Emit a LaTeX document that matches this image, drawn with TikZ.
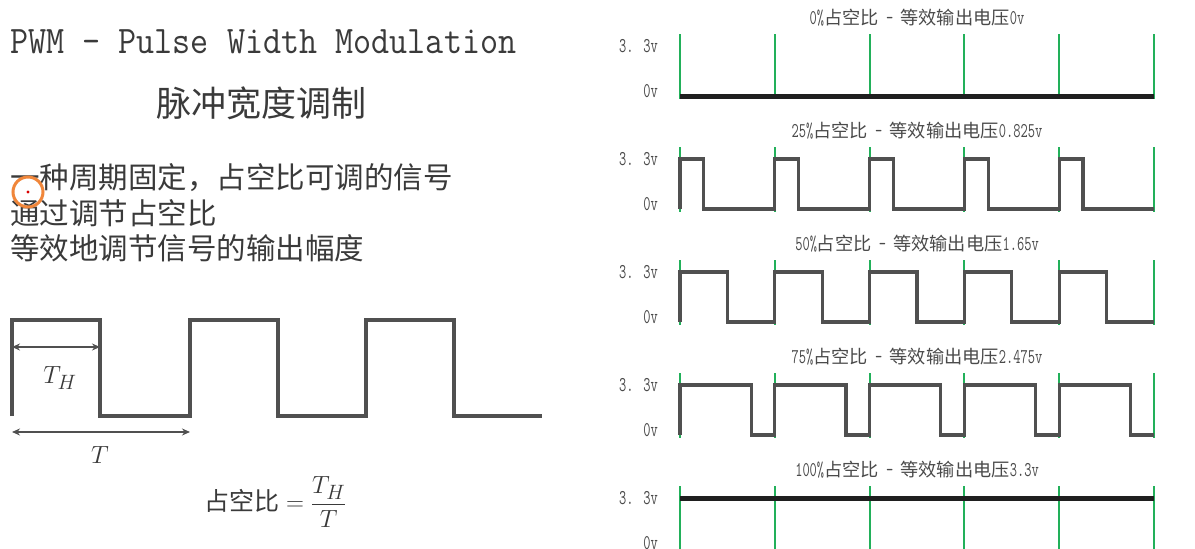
\documentclass[tikz,border=0pt]{standalone}
\usepackage{fontspec}
\setmainfont{Liberation Mono}
\newfontfamily\cjk{Noto Sans CJK SC}
\newfontfamily\monoT[FakeStretch=0.9]{Latin Modern Mono}
\newfontfamily\monoS[FakeStretch=0.67]{Latin Modern Mono}
\usetikzlibrary{arrows.meta}
\definecolor{wave}{HTML}{505050}
\definecolor{txt}{HTML}{3A3A3A}
\definecolor{lbl}{HTML}{4A4A4A}
\definecolor{grn}{HTML}{22B05A}
\definecolor{orng}{HTML}{F0863A}
\tikzset{
  wavel/.style={draw=wave, line width=4pt},
  wavep/.style={draw=wave, line width=3.2pt},
  flat/.style={draw=black!88, line width=5pt},
  grnl/.style={draw=grn, line width=2pt},
  dim/.style={draw=wave, line width=1.8pt, {Stealth[length=8pt,width=7pt]}-{Stealth[length=8pt,width=7pt]}},
  txtn/.style={inner sep=0pt, text=txt},
  ptitle/.style={inner sep=0pt, text=lbl},
  plabel/.style={inner sep=0pt, anchor=east, text=lbl},
}
\begin{document}
\begin{tikzpicture}[x=1pt,y=-1pt]
\useasboundingbox[fill=white] (0,0) rectangle (1195,549);

% ---------- left side texts ----------
\node[txtn, anchor=west] (title) at (10,42) {\fontsize{39}{44}\monoT PWM - Pulse Width Modulation};
\node[txtn] (sub) at (261,103) {\fontsize{35}{40}\cjk 脉冲宽度调制};
\node[txtn, anchor=west] (l1) at (10,178) {\fontsize{29.5}{34}\cjk 一种周期固定，占空比可调的信号};
\node[txtn, anchor=west] (l2) at (10,213) {\fontsize{29.5}{34}\cjk 通过调节占空比};
\node[txtn, anchor=west] (l3) at (10,248) {\fontsize{29.5}{34}\cjk 等效地调节信号的输出幅度};

% cursor marker
\draw[orng, line width=3pt] (28,192) circle[radius=15];
\fill[red!85!black] (28,192) circle[radius=1.6];

% ---------- left square wave ----------
\draw[wavel] (12,416) -- (12,320) -- (100,320) -- (100,416) -- (190,416) -- (190,320)
  -- (278,320) -- (278,416) -- (366,416) -- (366,320) -- (454,320) -- (454,416) -- (542,416);

\coordinate (tha) at (12,347);
\coordinate (thb) at (100,347);
\draw[dim] (tha) -- (thb);
\node[txtn] (th) at (60,378) {\fontsize{24.88}{28}\selectfont $T_H$};

\coordinate (ta) at (12,432);
\coordinate (tb) at (190,432);
\draw[dim] (ta) -- (tb);
\node[txtn] (t) at (100,455) {\fontsize{24.88}{28}\selectfont $T$};

\node[txtn, anchor=west] (formula) at (204,502) {\fontsize{24.88}{28}\selectfont{\cjk\fontsize{25}{30}\selectfont 占空比}$\displaystyle{}=\frac{T_H}{T}$};

% ---------- right panels ----------
\foreach \i/\p/\lab in {0/0/0v, 1/25/0.825v, 2/50/1.65v, 3/75/2.475v, 4/100/3.3v} {
  \pgfmathsetmacro\b{46+113*\i}
  \node[ptitle] (pt\i) at (917,\b-28) {\fontsize{21}{23}\monoS \p\%{\cjk\fontsize{18.2}{20}\selectfont 占空比}\ -\ {\cjk\fontsize{18.2}{20}\selectfont 等效输出电压}\lab};
  \node[plabel] (hi\i) at (658,\b) {\fontsize{21}{23}\monoS 3. 3v};
  \node[plabel] (lo\i) at (658,\b+45) {\fontsize{21}{23}\monoS 0v};
  \foreach \k in {0,...,5} {
    \draw[grnl] (680+94.8*\k,\b-12) -- (680+94.8*\k,\b+53);
  }
}

% 0% : flat low
\draw[flat] (680,96) -- (1154,96);
% 25%, 50%, 75%
\foreach \i/\d in {1/0.25, 2/0.5, 3/0.75} {
  \pgfmathsetmacro\b{46+113*\i}
  \draw[wavep] (680,\b+50) \foreach \k in {0,...,4} { -- ++(0,-50) -- ++(94.8*\d,0) -- ++(0,50) -- ++(94.8-94.8*\d,0) };
}
% 100% : flat high
\draw[flat] (680,498) -- (1154,498);
\end{tikzpicture}
\end{document}
